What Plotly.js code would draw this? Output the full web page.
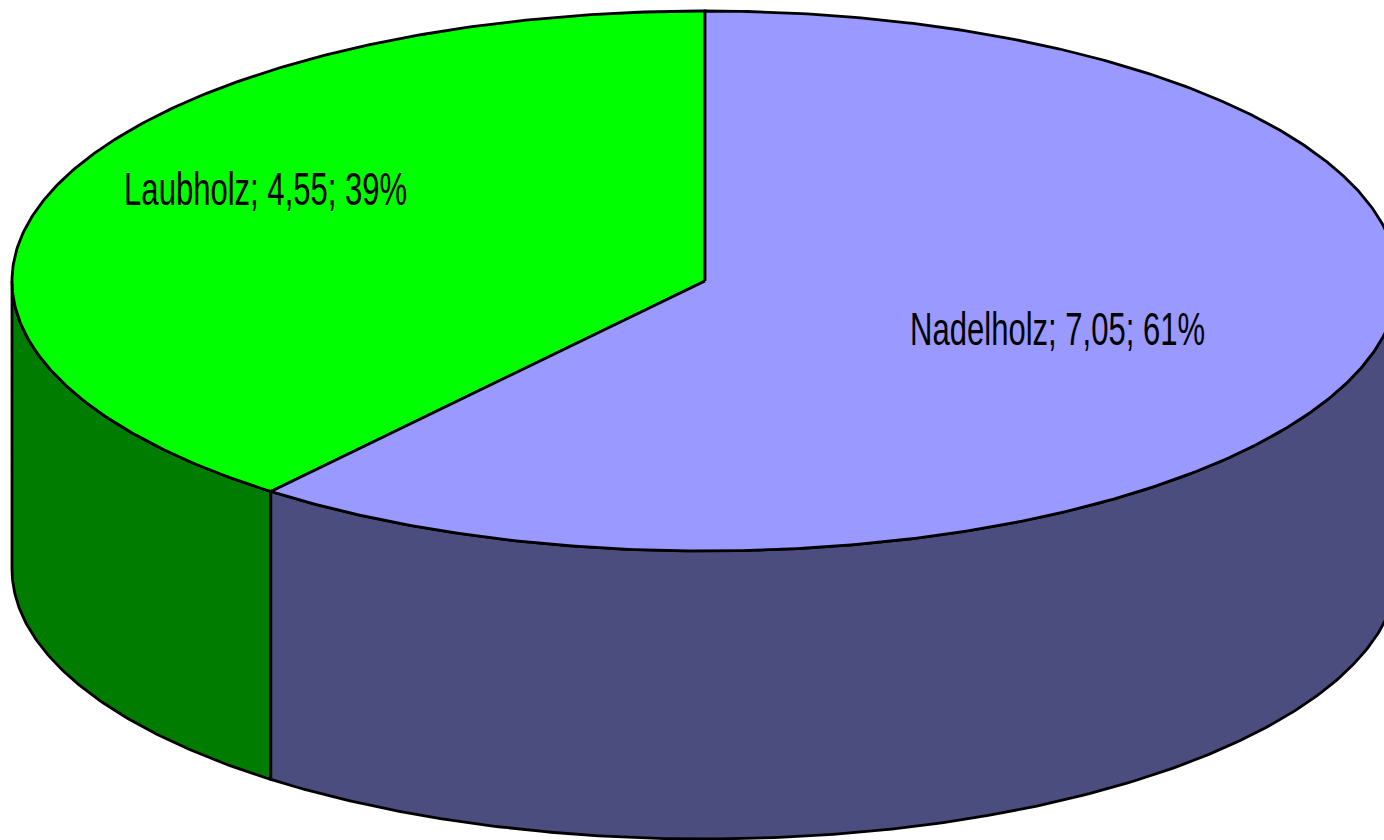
<!DOCTYPE html>
<html>
<head>
<meta charset="utf-8">
<script src="https://cdn.plot.ly/plotly-3.0.1.min.js"></script>
<style>html,body{margin:0;padding:0;background:#fff;}#chart{width:1384px;height:840px;}</style>
</head>
<body>
<div id="chart"></div>
<script>
// Data
const categories = ['Laubholz', 'Nadelholz'];
const values = [4.55, 7.05];
const topColors = ['#00FF00', '#9999FF'];
const sideColors = ['#007C00', '#4B4D7E'];

// Geometry (layout constants)
const W = 1384, H = 840;
const cx = 705, cy = 281, a = 693, b = 270, depth = 288;
const startDeg = 90;
const labelR = [[0.673, 1.03], [0.54, 0.535]];

const total = values.reduce((s, v) => s + v, 0);
const rad = d => d * Math.PI / 180;
function pt(tDeg, dy) {
  return [cx + a * Math.cos(rad(tDeg)), cy - b * Math.sin(rad(tDeg)) + (dy || 0)];
}
function arc(t0, t1, dy) {
  const n = Math.max(2, Math.ceil(Math.abs(t1 - t0) * 2));
  const xs = [], ys = [];
  for (let i = 0; i <= n; i++) {
    const p = pt(t0 + (t1 - t0) * i / n, dy);
    xs.push(p[0]); ys.push(p[1]);
  }
  return [xs, ys];
}

const traces = [];
const tops = [];
const annotations = [];
let t = startDeg;
categories.forEach((c, i) => {
  const sweep = values[i] / total * 360;
  const t0 = t, t1 = t + sweep;
  // side faces (front half: 180..360 and 540..720)
  [[180, 360], [540, 720]].forEach(([lo, hi]) => {
    const s0 = Math.max(t0, lo), s1 = Math.min(t1, hi);
    if (s1 > s0) {
      const up = arc(s0, s1, 0), dn = arc(s1, s0, depth);
      const xs = up[0].concat(dn[0], [up[0][0]]);
      const ys = up[1].concat(dn[1], [up[1][0]]);
      traces.push({x: xs, y: ys, type: 'scatter', mode: 'lines', fill: 'toself',
        fillcolor: sideColors[i], line: {color: '#000', width: 2.8}, hoverinfo: 'skip', showlegend: false});
    }
  });
  const ta = arc(t0, t1, 0);
  tops.push({x: [cx].concat(ta[0], [cx]), y: [cy].concat(ta[1], [cy]), type: 'scatter', mode: 'lines',
    fill: 'toself', fillcolor: topColors[i], line: {color: '#000', width: 2.8}, hoverinfo: 'skip', showlegend: false});
  const mid = (t0 + t1) / 2;
  const lx = cx + a * labelR[i][0] * Math.cos(rad(mid));
  const ly = cy - b * labelR[i][1] * Math.sin(rad(mid));
  const pct = Math.round(values[i] / total * 100);
  annotations.push({x: lx, y: ly, xref: 'x', yref: 'y', showarrow: false,
    text: c + '; ' + values[i].toFixed(2).replace('.', ',') + '; ' + pct + '%',
    font: {family: 'Liberation Sans, Arial, sans-serif', size: 46, color: '#000'},
    xanchor: 'center', yanchor: 'middle'});
  t = t1;
});

const layout = {
  width: W, height: H,
  margin: {l: 0, r: 0, t: 0, b: 0},
  paper_bgcolor: '#fff', plot_bgcolor: '#fff',
  xaxis: {range: [0, W], visible: false, fixedrange: true},
  yaxis: {range: [H, 0], visible: false, fixedrange: true},
  annotations: annotations,
  showlegend: false
};
Plotly.newPlot('chart', traces.concat(tops), layout, {displayModeBar: false, staticPlot: true}).then(() => {
  // condense label text horizontally to match the reference's narrow face
  document.querySelectorAll('.annotation-text-g').forEach(g => {
    const bb = g.getBBox();
    const cxx = bb.x + bb.width / 2;
    g.setAttribute('transform', (g.getAttribute('transform') || '') +
      ' translate(' + cxx + ',0) scale(0.675,1) translate(' + (-cxx) + ',0)');
  });
});
</script>
</body>
</html>
